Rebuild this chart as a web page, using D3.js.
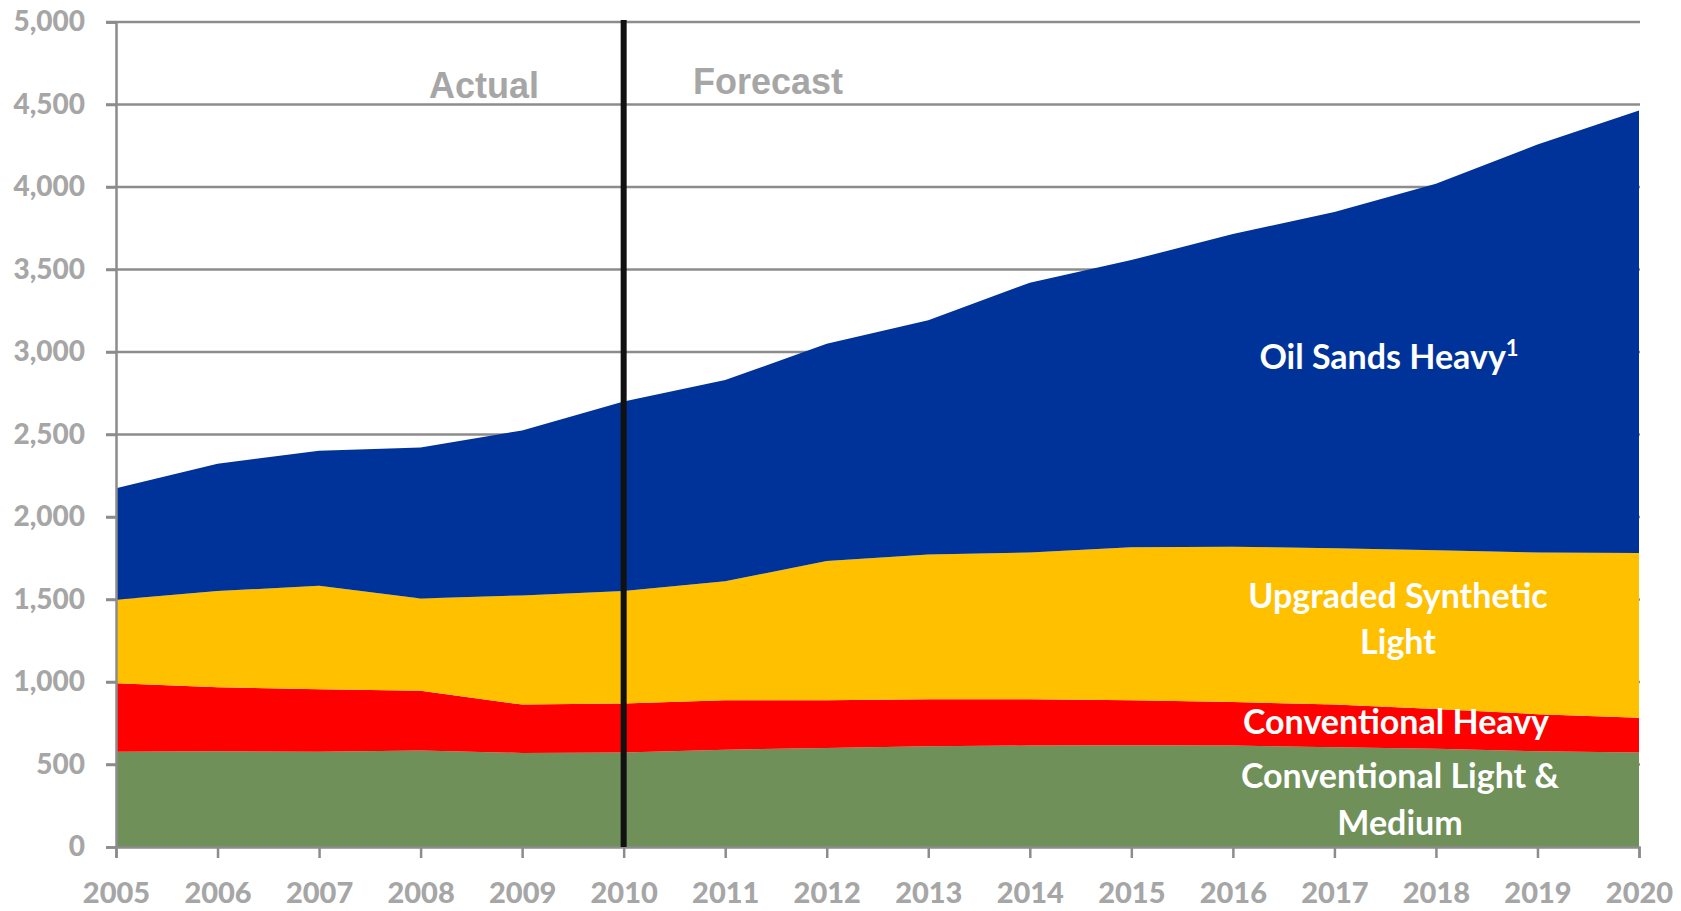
<!DOCTYPE html>
<html>
<head>
<meta charset="utf-8">
<script src="https://cdn.jsdelivr.net/npm/d3@7"></script>
<style>
  html, body { margin: 0; padding: 0; background: #fff; }
  svg { display: block; }
</style>
</head>
<body>
<svg id="chart" width="1681" height="911"></svg>
<script>
// values (thousand barrels per day, stacked)
const years = [2005, 2006, 2007, 2008, 2009, 2010, 2011, 2012, 2013, 2014, 2015, 2016, 2017, 2018, 2019, 2020];
const convLightMedium = [578, 580, 578, 585, 570, 572, 590, 600, 610, 615, 617, 615, 605, 595, 580, 573];
const convHeavy = [414, 388, 378, 362, 293, 298, 299, 289, 286, 281, 272, 264, 258, 242, 225, 210];
const upgradedSynthetic = [507, 583, 628, 559, 662, 681, 721, 844, 876, 889, 928, 941, 948, 961, 980, 999];
const oilSandsHeavy = [675, 772, 817, 915, 1000, 1149, 1220, 1317, 1421, 1635, 1740, 1895, 2038, 2222, 2472, 2681];
const yTicks = [0, 500, 1000, 1500, 2000, 2500, 3000, 3500, 4000, 4500, 5000];
const seriesKeys = ['light', 'heavy', 'synthetic', 'oilsands'];
const seriesColors = ['#70905a', '#ff0000', '#ffc000', '#003399'];

const svg = d3.select('#chart');
const x = d3.scaleLinear().domain([2005, 2020]).range([116, 1639]);
const y = d3.scaleLinear().domain([0, 5000]).range([847, 22]);

const rows = years.map((yr, i) => ({
    year: yr,
    light: convLightMedium[i],
    heavy: convHeavy[i],
    synthetic: upgradedSynthetic[i],
    oilsands: oilSandsHeavy[i]
}));
const stacked = d3.stack().keys(seriesKeys)(rows);

// gridlines
svg.append('g')
    .selectAll('line')
    .data(yTicks.filter((d) => d > 0))
    .enter()
    .append('line')
    .attr('x1', 106)
    .attr('x2', 1640)
    .attr('y1', (d) => y(d))
    .attr('y2', (d) => y(d))
    .attr('stroke', '#8c8c8c')
    .attr('stroke-width', 2.5);

// areas
const area = d3.area()
    .x((d) => x(d.data.year))
    .y0((d) => y(d[0]))
    .y1((d) => y(d[1]));

svg.append('g')
    .selectAll('path')
    .data(stacked)
    .enter()
    .append('path')
    .attr('d', area)
    .attr('fill', (d, i) => seriesColors[i]);

// y axis
const yAxis = svg.append('g')
    .attr('transform', 'translate(116,0)')
    .call(d3.axisLeft(y).tickValues(yTicks).tickSize(10).tickPadding(21)
        .tickFormat(d3.format(',')));
yAxis.select('.domain').attr('stroke', '#8c8c8c').attr('stroke-width', 2.5);
yAxis.selectAll('.tick line').attr('stroke', '#8c8c8c').attr('stroke-width', 2.5);
yAxis.selectAll('.tick text')
    .attr('fill', '#a6a6a6')
    .attr('font-family', 'Lato, sans-serif')
    .attr('font-weight', 900)
    .attr('font-size', 28);

// x axis
const xAxis = svg.append('g')
    .attr('transform', 'translate(0,847)')
    .call(d3.axisBottom(x).tickValues(years).tickSize(11).tickPadding(24)
        .tickFormat(d3.format('d')));
xAxis.select('.domain').attr('stroke', '#8c8c8c').attr('stroke-width', 2.5);
xAxis.selectAll('.tick line').attr('stroke', '#8c8c8c').attr('stroke-width', 2.5);
xAxis.selectAll('.tick text')
    .attr('fill', '#a6a6a6')
    .attr('font-family', 'Lato, sans-serif')
    .attr('font-weight', 900)
    .attr('font-size', 29);

// actual / forecast divider
svg.append('line')
    .attr('x1', x(2010))
    .attr('x2', x(2010))
    .attr('y1', y(5000) - 2)
    .attr('y2', y(0))
    .attr('stroke', '#111')
    .attr('stroke-width', 6);

svg.append('text')
    .attr('x', 484).attr('y', 98)
    .attr('text-anchor', 'middle')
    .attr('font-family', 'Liberation Sans, Arial, sans-serif')
    .attr('font-weight', 700)
    .attr('font-size', 36)
    .attr('fill', '#a6a6a6')
    .text('Actual');
svg.append('text')
    .attr('x', 768).attr('y', 94)
    .attr('text-anchor', 'middle')
    .attr('font-family', 'Liberation Sans, Arial, sans-serif')
    .attr('font-weight', 700)
    .attr('font-size', 36)
    .attr('fill', '#a6a6a6')
    .text('Forecast');

// series labels
const labelFont = (sel) => sel
    .attr('text-anchor', 'middle')
    .attr('font-family', 'Lato, sans-serif')
    .attr('font-weight', 700)
    .attr('font-size', 34)
    .attr('fill', '#fff');

const oil = svg.append('text').attr('x', 1389).attr('y', 369).call(labelFont);
oil.append('tspan').text('Oil Sands Heavy');
oil.append('tspan').attr('dy', -13).attr('font-size', 22).text('1');

svg.append('text').attr('x', 1398).attr('y', 608).call(labelFont).text('Upgraded Synthetic');
svg.append('text').attr('x', 1398).attr('y', 654).call(labelFont).text('Light');
svg.append('text').attr('x', 1396).attr('y', 734).call(labelFont).text('Conventional Heavy');
svg.append('text').attr('x', 1400).attr('y', 788).call(labelFont).text('Conventional Light &');
svg.append('text').attr('x', 1400).attr('y', 835).call(labelFont).text('Medium');
</script>
</body>
</html>
